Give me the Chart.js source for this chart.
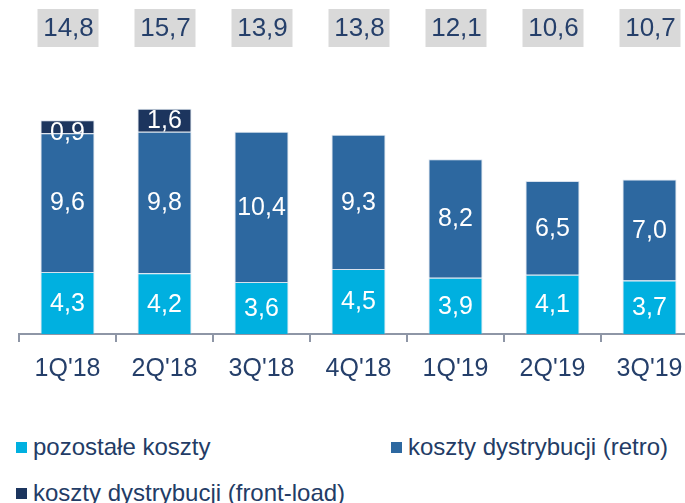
<!DOCTYPE html>
<html>
<head>
<meta charset="utf-8">
<script src="https://cdn.jsdelivr.net/npm/chart.js@4.4.0/dist/chart.umd.min.js"></script>
<style>
  html, body { margin: 0; padding: 0; background: #fff; overflow: hidden; width: 685px; height: 503px; }
  #wrap { position: absolute; left: 0; top: 0; width: 705px; height: 400px; }
  .leg { position: absolute; font-family: "Liberation Sans", Arial, sans-serif; font-size: 24px; color: #233C66; line-height: 24px; white-space: nowrap; }
  .leg span.sq { position: absolute; left: 0; top: 7px; width: 11px; height: 11px; }
  .leg span.tx { position: absolute; left: 17px; top: 0; }
</style>
</head>
<body>
<div id="wrap"><canvas id="chart" width="705" height="400"></canvas></div>
<div id="legend"></div>
<script>
var quarters = ["1Q'18", "2Q'18", "3Q'18", "4Q'18", "1Q'19", "2Q'19", "3Q'19"];
var pozostale = [4.3, 4.2, 3.6, 4.5, 3.9, 4.1, 3.7];
var retro = [9.6, 9.8, 10.4, 9.3, 8.2, 6.5, 7.0];
var frontLoad = [0.9, 1.6, null, null, null, null, null];
var totals = [14.8, 15.7, 13.9, 13.8, 12.1, 10.6, 10.7];

var navy = '#253F6A';
var font = '"Liberation Sans", Arial, sans-serif';

function fmt(v) { return v.toFixed(1).replace('.', ','); }

// white numbers inside the segments + grey boxes with totals above
var labelsPlugin = {
  id: 'labels',
  afterDatasetsDraw: function(chart) {
    var ctx = chart.ctx;
    ctx.save();
    ctx.font = '25px ' + font;
    ctx.textAlign = 'center';
    ctx.textBaseline = 'middle';
    ctx.fillStyle = '#fff';
    chart.data.datasets.forEach(function(ds, i) {
      chart.getDatasetMeta(i).data.forEach(function(bar, j) {
        var v = ds.data[j];
        if (v == null) return;
        var y = (bar.y + bar.base) / 2;
        if (bar.base - bar.y < 20) y += 5;
        ctx.fillText(fmt(v), bar.x, y + 1);
      });
    });
    var meta = chart.getDatasetMeta(0);
    var top = chart.chartArea.top;
    totals.forEach(function(t, j) {
      var x = meta.data[j].x;
      ctx.fillStyle = '#D9D9D9';
      ctx.fillRect(x - 30, top - 65, 61, 38);
      ctx.fillStyle = navy;
      ctx.font = '26px ' + font;
      ctx.fillText(fmt(t), x + 1, top - 45);
    });
    ctx.restore();
  }
};

var chart = new Chart(document.getElementById('chart'), {
  type: 'bar',
  data: {
    labels: quarters,
    datasets: [
      { label: 'pozostałe koszty', data: pozostale, backgroundColor: '#00B0E0' },
      { label: 'koszty dystrybucji (retro)', data: retro, backgroundColor: '#2D68A0' },
      { label: 'koszty dystrybucji (front-load)', data: frontLoad, backgroundColor: '#1C355E' }
    ]
  },
  options: {
    responsive: false,
    animation: false,
    events: [],
    layout: { padding: { left: 19, right: 7, top: 74, bottom: 4 } },
    datasets: {
      bar: {
        barPercentage: 0.557, categoryPercentage: 1,
        borderWidth: { left: 1, right: 1, top: 1, bottom: 0 },
        borderColor: 'rgba(190,205,225,0.6)', borderSkipped: 'bottom'
      }
    },
    plugins: { legend: { display: false }, tooltip: { enabled: false } },
    scales: {
      x: {
        stacked: true,
        grid: { display: true, drawOnChartArea: false, drawTicks: true, tickLength: 8, color: '#8E96A6', lineWidth: 2, offset: true },
        border: { display: true, color: '#8E96A6', width: 2 },
        ticks: { color: navy, font: { family: font, size: 25 }, padding: 12 }
      },
      y: { stacked: true, display: false, min: 0, max: 18 }
    }
  },
  plugins: [labelsPlugin]
});

// legend below the chart
var legPos = [[16, 435], [391, 435], [16, 481]];
var legHtml = '';
chart.data.datasets.forEach(function(ds, i) {
  legHtml += '<div class="leg" style="left:' + legPos[i][0] + 'px;top:' + legPos[i][1] + 'px">' +
    '<span class="sq" style="background:' + ds.backgroundColor + '"></span>' +
    '<span class="tx">' + ds.label + '</span></div>';
});
document.getElementById('legend').innerHTML = legHtml;
</script>
</body>
</html>
